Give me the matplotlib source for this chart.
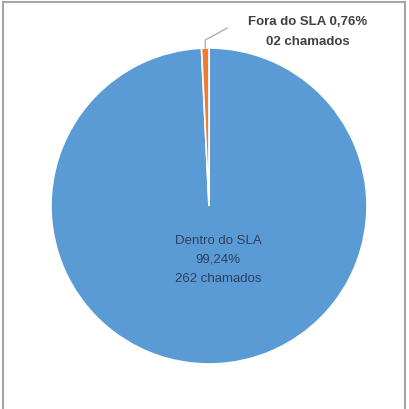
import numpy as np
import matplotlib.pyplot as plt
from matplotlib.patches import Rectangle

# dados do gráfico
categorias = ["Dentro do SLA", "Fora do SLA"]
chamados = [262, 2]
percentuais = ["99,24%", "0,76%"]
cores = ["#5B9BD5", "#ED7D31"]

plt.rcParams['font.family'] = ['Liberation Sans', 'DejaVu Sans']

fig = plt.figure(figsize=(4.09, 4.10), dpi=100)
ax = fig.add_axes([0, 0, 1, 1])

# moldura cinza
fig.patches.append(Rectangle((3 / 409, -0.02), 402 / 409, 1.0 - 3 / 410 + 0.02,
                             transform=fig.transFigure, fill=False,
                             edgecolor="#A6A6A6", linewidth=1.5))

centro = (209, 203)
raio = 158
wedges, _ = ax.pie(chamados, colors=cores, startangle=90, counterclock=False,
                   center=centro, radius=raio, frame=True,
                   wedgeprops=dict(edgecolor="white", linewidth=1.2))
ax.set_xlim(0, 409)
ax.set_ylim(0, 410)
ax.axis('off')

# rótulo interno
ax.text(centro[0] + 9, centro[1] - 53,
        f"{categorias[0]}\n{percentuais[0]}\n{chamados[0]} chamados",
        ha="center", va="center", fontsize=9.5, color="#2F3F5F", linespacing=1.75)

# rótulo externo com linha guia
w = wedges[1]
ang = np.deg2rad((w.theta1 + w.theta2) / 2)
p0 = (centro[0] + raio * np.cos(ang), centro[1] + raio * np.sin(ang))
p1 = (p0[0], p0[1] + 8)
p2 = (p0[0] + 22, p1[1] + 12)
ax.plot([p0[0], p1[0], p2[0]], [p0[1], p1[1], p2[1]], color="#A6A6A6", linewidth=0.9)
ax.text(308, 378, f"{categorias[1]} {percentuais[1]}\n{chamados[1]:02d} chamados",
        ha="center", va="center", fontsize=9.5, color="#404040", linespacing=1.8,
        fontweight="semibold")

fig.savefig("out.png", dpi=100)
